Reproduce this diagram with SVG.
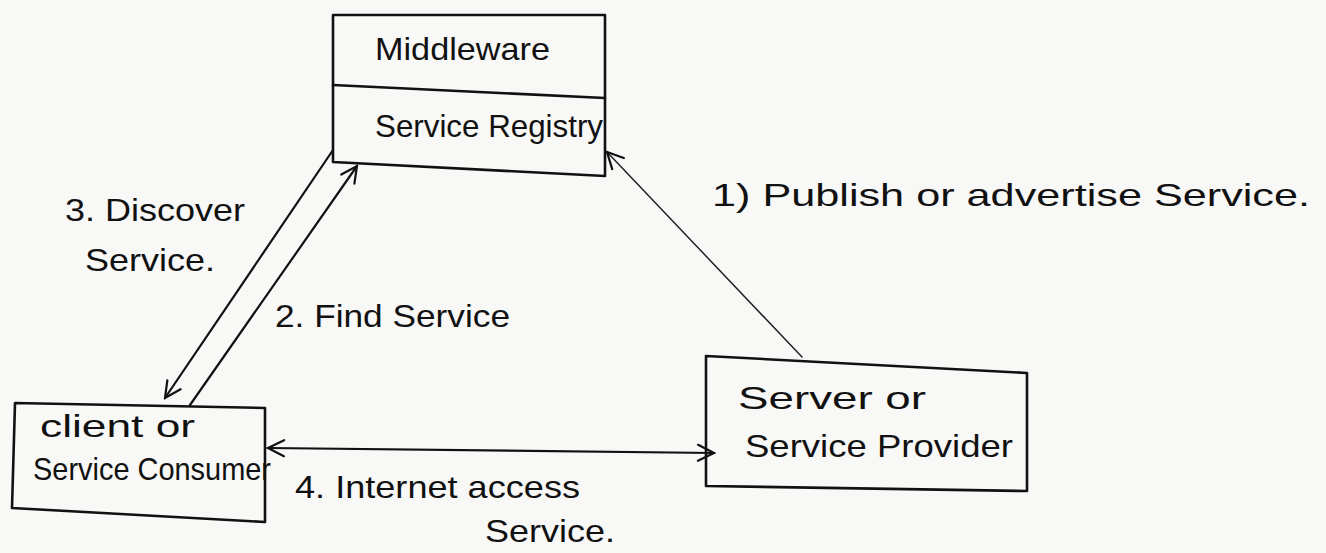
<svg xmlns="http://www.w3.org/2000/svg" width="1326" height="553" viewBox="0 0 1326 553">
  <style>
    .box { fill: none; stroke: #111; stroke-width: 2.6; stroke-linejoin: round; stroke-linecap: round; }
    .wire { fill: none; stroke: #111; stroke-width: 2.2; stroke-linecap: round; }
    .thin { fill: none; stroke: #222; stroke-width: 1.5; stroke-linecap: round; }
    .lbl { font-family: "Liberation Sans", "DejaVu Sans", sans-serif; fill: #111; font-size: 32px; }
  </style>
  <defs>
    <marker id="head" viewBox="0 0 20 20" refX="18" refY="10" markerWidth="20" markerHeight="20" markerUnits="userSpaceOnUse" orient="auto-start-reverse">
      <path d="M2,2 L18,10 L2,18" fill="none" stroke="#111" stroke-width="2.2" stroke-linecap="round"/>
    </marker>
  </defs>
  <rect width="1326" height="553" fill="#f8f8f7"/>

  <!-- Middleware / Service Registry block -->
  <g id="registry">
    <path class="box" d="M333,15 L605,15 L605,176 L333,162 Z"/>
    <path class="box" d="M333,85 L605,98"/>
    <text class="lbl" x="375" y="60" font-size="34" textLength="175" lengthAdjust="spacingAndGlyphs">Middleware</text>
    <text class="lbl" x="375" y="137" font-size="33" textLength="228" lengthAdjust="spacingAndGlyphs">Service Registry</text>
  </g>

  <!-- Client -->
  <g id="client">
    <path class="box" d="M15,403 L265,408 L265,522 L12,508 Z"/>
    <text class="lbl" x="40" y="437" textLength="155" lengthAdjust="spacingAndGlyphs">client or</text>
    <text class="lbl" x="33" y="480" textLength="238" lengthAdjust="spacingAndGlyphs">Service Consumer</text>
  </g>

  <!-- Server -->
  <g id="server">
    <path class="box" d="M706,356 L1027,373 L1027,491 L706,486 Z"/>
    <text class="lbl" x="738" y="409" textLength="188" lengthAdjust="spacingAndGlyphs">Server or</text>
    <text class="lbl" x="745" y="457" textLength="268" lengthAdjust="spacingAndGlyphs">Service Provider</text>
  </g>

  <!-- Connectors -->
  <g id="connectors">
    <line class="thin" x1="802" y1="357" x2="607" y2="152" marker-end="url(#head)"/>
    <line class="wire" x1="333" y1="150" x2="165" y2="398" marker-end="url(#head)"/>
    <line class="wire" x1="190" y1="405" x2="357" y2="166" marker-end="url(#head)"/>
    <line class="wire" x1="268" y1="448" x2="714" y2="453" marker-start="url(#head)" marker-end="url(#head)"/>
  </g>

  <!-- Step labels -->
  <g id="labels">
    <text class="lbl" x="712" y="206" font-size="36" textLength="598" lengthAdjust="spacingAndGlyphs">1) Publish or advertise Service.</text>
    <text class="lbl" x="275" y="327" textLength="235" lengthAdjust="spacingAndGlyphs">2. Find Service</text>
    <text class="lbl" x="65" y="221" textLength="180" lengthAdjust="spacingAndGlyphs">3. Discover</text>
    <text class="lbl" x="85" y="271" textLength="130" lengthAdjust="spacingAndGlyphs">Service.</text>
    <text class="lbl" x="295" y="498" textLength="285" lengthAdjust="spacingAndGlyphs">4. Internet access</text>
    <text class="lbl" x="485" y="542" textLength="130" lengthAdjust="spacingAndGlyphs">Service.</text>
  </g>
</svg>
